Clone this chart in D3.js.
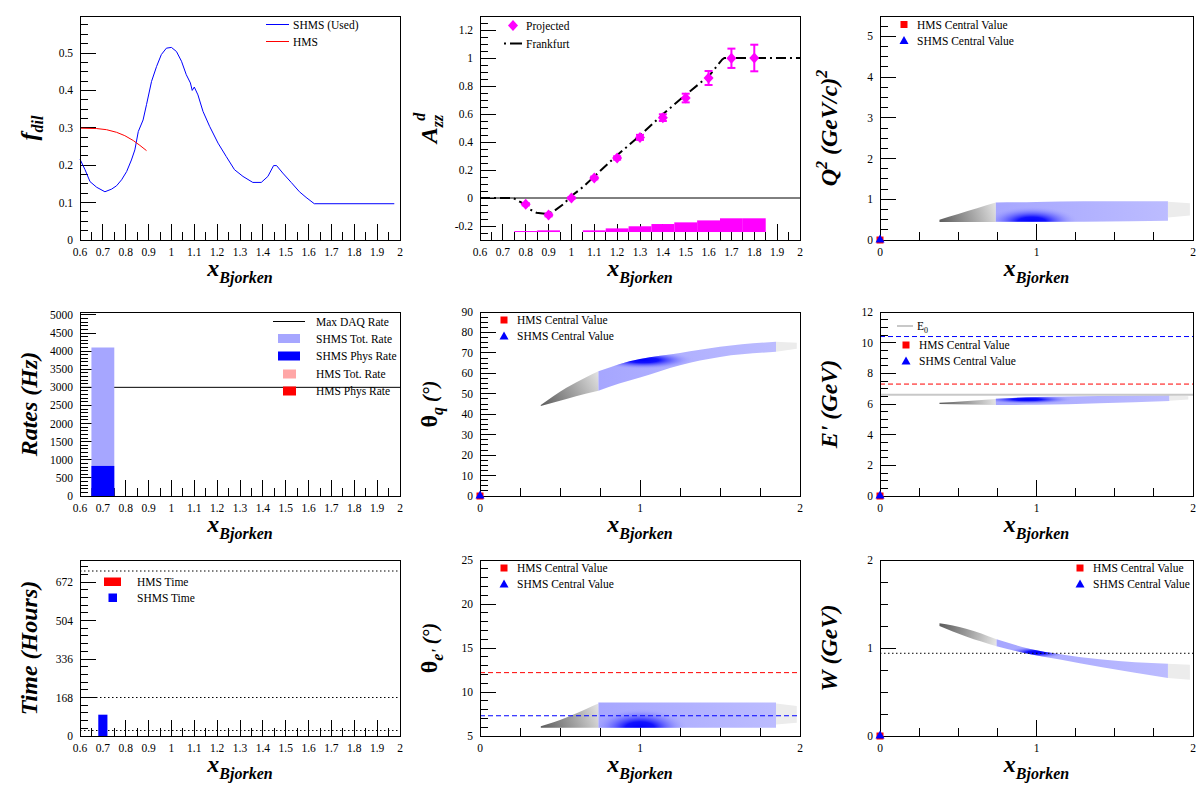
<!DOCTYPE html>
<html>
<head>
<meta charset="utf-8">
<script src="https://d3js.org/d3.v7.min.js"></script>
<style>
  body { margin: 0; background: #fff; }
  svg text { font-family: "Liberation Serif", "Times New Roman", serif; }
</style>
</head>
<body>
<div id="container"></div>
<script>
// ---------------- data ----------------
// dilution factor
const fdilShmsX = [0.6,0.622,0.644,0.673,0.709,0.738,0.76,0.782,0.804,0.825,0.84,0.855,0.876,0.891,0.913,0.935,0.956,0.978,1.0,1.022,1.044,1.065,1.083,1.091,1.1,1.116,1.138,1.167,1.204,1.24,1.276,1.313,1.356,1.393,1.422,1.447,1.46,1.487,1.524,1.56,1.589,1.625,1.975]
const fdilShmsY = [0.216,0.188,0.156,0.141,0.129,0.136,0.145,0.161,0.183,0.214,0.241,0.29,0.321,0.362,0.424,0.464,0.496,0.513,0.515,0.504,0.478,0.442,0.42,0.4,0.409,0.388,0.344,0.304,0.259,0.223,0.188,0.17,0.154,0.154,0.17,0.199,0.199,0.179,0.154,0.129,0.114,0.097,0.097]
const fdilHmsX = [0.6,0.673,0.716,0.76,0.796,0.833,0.862,0.891]
const fdilHmsY = [0.299,0.298,0.295,0.288,0.279,0.266,0.253,0.239]

// A_zz projection
const azzX = [0.8,0.9,1.0,1.1,1.2,1.3,1.4,1.5,1.6,1.7,1.8]
const azzY = [-0.045,-0.121,0.0,0.143,0.286,0.433,0.574,0.714,0.857,0.998,1.0]
const azzErr = [0.008,0.01,0.006,0.01,0.012,0.018,0.024,0.031,0.05,0.069,0.095]
const azzSys = [0.007,0.012,0,0.012,0.026,0.041,0.057,0.069,0.083,0.098,0.098]
const azzSysBase = -0.243
const frankX = [0.6,0.745,0.782,0.818,0.847,0.884,0.92,0.964,1.0,1.051,1.102,1.196,1.298,1.4,1.502,1.604,1.66,1.669,2.0]
const frankY = [0,0,-0.033,-0.081,-0.105,-0.112,-0.098,-0.045,0.014,0.079,0.157,0.3,0.443,0.598,0.74,0.876,0.99,1.0,1.0]

// rates
const rateBinLo = [0.65]
const rateBinHi = [0.75]
const rateShmsTot = [4100]
const rateShmsPhys = [830]
const maxDaqRate = 3000

// beam time
const timeBinLo = [0.68]
const timeBinHi = [0.72]
const timeShms = [93]
const timeRefLines = [24, 168, 720]

// kinematic coverage bands: [x, low edge, high edge]
const q2Hms = [[0.38,0.44,0.50],[0.50,0.44,0.64],[0.62,0.44,0.78],[0.74,0.44,0.92]]
const q2Shms = [[0.74,0.45,0.92],[1.0,0.45,0.93],[1.3,0.45,0.95],[1.6,0.46,0.95],[1.84,0.47,0.95]]
const q2Tail = [[1.84,0.55,0.94],[1.98,0.60,0.90]]
const q2Core = [0.97, 0.45, 0.3, 0.38]

const thqHms = [[0.38,44,44.5],[0.54,47.5,53],[0.66,50,58],[0.74,51.5,61]]
const thqShms = [[0.74,51.5,61],[0.87,55,64.5],[1.0,58,67],[1.25,64,70],[1.5,68,73],[1.85,70.5,75.5]]
const thqTail = [[1.85,70.5,75.5],[1.98,72,75]]
const thqCore = [1.02, 66.5, 0.32, 4.5]

const epHms = [[0.38,6.0,6.08],[0.56,5.96,6.2],[0.74,5.93,6.33]]
const epShms = [[0.74,5.93,6.35],[1.0,5.95,6.45],[1.4,6.05,6.52],[1.85,6.2,6.58]]
const epTail = [[1.85,6.22,6.57],[1.97,6.3,6.5]]
const epCore = [0.94, 6.3, 0.3, 0.3]
const epBeam = 6.6
const epHmsCentral = 7.3
const epShmsCentral = 10.4

const theHms = [[0.38,5.95,6.1],[0.54,5.95,7.1],[0.66,5.95,8.05],[0.74,5.95,8.7]]
const theShms = [[0.74,5.95,8.8],[1.3,5.95,8.8],[1.85,5.95,8.8]]
const theTail = [[1.85,6.3,8.7],[1.98,6.5,8.4]]
const theCore = [1.0, 5.95, 0.3, 2.2]
const theHmsCentral = 12.2
const theShmsCentral = 7.3

const wHms = [[0.38,1.25,1.28],[0.55,1.13,1.22],[0.745,1.02,1.10]]
const wShms = [[0.745,1.02,1.10],[0.96,0.93,0.99],[1.15,0.87,0.93],[1.42,0.78,0.87],[1.84,0.66,0.82]]
const wTail = [[1.84,0.66,0.82],[1.98,0.64,0.81]]
const wCore = [1.0, 0.95, 0.2, 0.07]
const protonMass = 0.94

const centralX = 0, centralY = 0

// ---------------- layout ----------------
const svg = d3.select('#container').append('svg').attr('width', 1200).attr('height', 800)
    .attr('font-family', '"Liberation Serif", "Times New Roman", serif')
const defs = svg.append('defs')
const cols = [{l: 80, r: 400}, {l: 480, r: 800}, {l: 880, r: 1193}]
const rows = [{t: 16, b: 240}, {t: 312, b: 496}, {t: 560, b: 736}]

const multiples = (d0, d1, step) => {
    const a = Math.ceil(d0 / step - 1e-6), b = Math.floor(d1 / step + 1e-6)
    return d3.range(a, b + 1).map(i => +(i * step).toFixed(6))
}
const fmt = v => String(+v.toFixed(3))

function makePanel(ci, ri, xd, yd, xStep, xSub, yStep, ySub) {
    const c = cols[ci], r = rows[ri]
    const x = d3.scaleLinear().domain(xd).range([c.l, c.r])
    const y = d3.scaleLinear().domain(yd).range([r.b, r.t])
    const g = svg.append('g')
    const ax = g.append('g').attr('stroke', '#000').attr('shape-rendering', 'crispEdges')
    const marks = g.append('g')
    const top = g.append('g')

    const xMaj = multiples(xd[0], xd[1], xStep)
    const xMin = multiples(xd[0], xd[1], xStep / xSub).filter(v => !xMaj.some(m => Math.abs(m - v) < 1e-6))
    const yMaj = multiples(yd[0], yd[1], yStep)
    const yMin = multiples(yd[0], yd[1], yStep / ySub).filter(v => !yMaj.some(m => Math.abs(m - v) < 1e-6))

    ax.selectAll(null).data(xMaj).join('line')
        .attr('x1', d => x(d)).attr('x2', d => x(d)).attr('y1', r.b).attr('y2', r.b - 16)
    ax.selectAll(null).data(xMin).join('line')
        .attr('x1', d => x(d)).attr('x2', d => x(d)).attr('y1', r.b).attr('y2', r.b - 8)
    ax.selectAll(null).data(yMaj).join('line')
        .attr('x1', c.l).attr('x2', c.l + 16).attr('y1', d => y(d)).attr('y2', d => y(d))
    ax.selectAll(null).data(yMin).join('line')
        .attr('x1', c.l).attr('x2', c.l + 8).attr('y1', d => y(d)).attr('y2', d => y(d))

    top.selectAll(null).data(xMaj).join('text')
        .attr('x', d => x(d)).attr('y', r.b + 12)
        .attr('text-anchor', 'middle').attr('dominant-baseline', 'central')
        .attr('font-size', 11.5).text(fmt)
    top.selectAll(null).data(yMaj).join('text')
        .attr('x', c.l - 7).attr('y', d => y(d))
        .attr('text-anchor', 'end').attr('dominant-baseline', 'central')
        .attr('font-size', 11.5).text(fmt)

    top.append('rect').attr('x', c.l).attr('y', r.t)
        .attr('width', c.r - c.l).attr('height', r.b - r.t)
        .attr('fill', 'none').attr('stroke', '#000').attr('shape-rendering', 'crispEdges')

    // x title
    const xt = top.append('text').attr('x', (c.l + c.r) / 2).attr('y', r.b + 36)
        .attr('text-anchor', 'middle').attr('font-weight', 'bold').attr('font-style', 'italic')
    xt.append('tspan').attr('font-size', 24).text('x')
    xt.append('tspan').attr('font-size', 16).attr('dy', 7).text('Bjorken')

    return {g, x, y, c, r, marks, top}
}

function yTitle(p, parts) {
    const t = p.top.append('text')
        .attr('transform', `translate(${p.c.l - 43},${(p.r.t + p.r.b) / 2}) rotate(-90)`)
        .attr('text-anchor', 'middle').attr('font-weight', 'bold')
    parts.forEach(d => {
        const s = t.append('tspan').attr('font-size', d.s).text(d.t)
            .attr('font-style', d.up ? 'normal' : 'italic')
        if (d.dy) s.attr('dy', d.dy)
        if (d.dx) s.attr('dx', d.dx)
    })
}

const legendText = (p, x, y, str) => p.top.append('text').attr('x', x).attr('y', y)
    .attr('dominant-baseline', 'central').attr('font-size', 11.5).text(str)
const square = (sel, cx, cy, color) => sel.append('rect')
    .attr('x', cx - 3.5).attr('y', cy - 3.5).attr('width', 7).attr('height', 7).attr('fill', color)
const triangle = (sel, cx, cy, color) => sel.append('path')
    .attr('d', `M${cx},${cy - 4.5}L${cx + 4.5},${cy + 3.5}L${cx - 4.5},${cy + 3.5}Z`).attr('fill', color)
const diamond = (sel, cx, cy, color) => sel.append('path')
    .attr('d', `M${cx},${cy - 5.5}L${cx + 5},${cy}L${cx},${cy + 5.5}L${cx - 5},${cy}Z`).attr('fill', color)

function centralLegend(p, mx, y1, y2) {
    square(p.top, mx, y1, '#ff0000')
    legendText(p, mx + 13, y1, 'HMS Central Value')
    triangle(p.top, mx, y2, '#0000ff')
    legendText(p, mx + 13, y2, 'SHMS Central Value')
}
function centralMarkers(p) {
    square(p.top, p.x(centralX), p.y(centralY), '#ff0000')
    triangle(p.top, p.x(centralX), p.y(centralY) - 1, '#0000ff')
}

function density(p, hms, shms, tail, core, id) {
    const area = d3.area().x(d => p.x(d[0])).y0(d => p.y(d[1])).y1(d => p.y(d[2])).curve(d3.curveMonotoneX)
    const last = hms[hms.length - 1]
    const lg = defs.append('linearGradient').attr('id', id + 'g').attr('gradientUnits', 'userSpaceOnUse')
        .attr('x1', p.x(hms[0][0])).attr('y1', p.y(hms[0][1]))
        .attr('x2', p.x(last[0])).attr('y2', p.y(last[2]))
    lg.append('stop').attr('offset', 0).attr('stop-color', '#5c5c5c')
    lg.append('stop').attr('offset', 0.55).attr('stop-color', '#a4a4a4')
    lg.append('stop').attr('offset', 1).attr('stop-color', '#e4e4e4')
    p.marks.append('path').datum(hms).attr('d', area).attr('fill', `url(#${id}g)`)

    const bg = defs.append('linearGradient').attr('id', id + 'b').attr('gradientUnits', 'userSpaceOnUse')
        .attr('x1', p.x(shms[0][0])).attr('x2', p.x(shms[shms.length - 1][0])).attr('y1', 0).attr('y2', 0)
    bg.append('stop').attr('offset', 0).attr('stop-color', '#a6a6ff')
    bg.append('stop').attr('offset', 1).attr('stop-color', '#bcbcff')
    p.marks.append('path').datum(shms).attr('d', area).attr('fill', `url(#${id}b)`)

    defs.append('clipPath').attr('id', id + 'c').append('path').datum(shms).attr('d', area)
    const rg = defs.append('radialGradient').attr('id', id + 'r')
    rg.append('stop').attr('offset', 0).attr('stop-color', '#0000ff').attr('stop-opacity', 1)
    rg.append('stop').attr('offset', 0.3).attr('stop-color', '#0a0aff').attr('stop-opacity', 0.95)
    rg.append('stop').attr('offset', 0.65).attr('stop-color', '#6464ff').attr('stop-opacity', 0.55)
    rg.append('stop').attr('offset', 1).attr('stop-color', '#b0b0ff').attr('stop-opacity', 0)
    p.marks.append('ellipse')
        .attr('cx', p.x(core[0])).attr('cy', p.y(core[1]))
        .attr('rx', p.x(core[0] + core[2]) - p.x(core[0]))
        .attr('ry', p.y(core[1]) - p.y(core[1] + core[3]))
        .attr('fill', `url(#${id}r)`).attr('clip-path', `url(#${id}c)`)

    p.marks.append('path').datum(tail).attr('d', area).attr('fill', '#ececec')
}

function hline(p, v, color, dash, width) {
    p.marks.append('line').attr('x1', p.c.l).attr('x2', p.c.r).attr('y1', p.y(v)).attr('y2', p.y(v))
        .attr('stroke', color).attr('stroke-width', width || 1)
        .attr('stroke-dasharray', dash || null)
}

// ---------------- panel 1: f_dil ----------------
const p1 = makePanel(0, 0, [0.6, 2], [0, 0.599], 0.1, 2, 0.1, 4)
const line1 = d3.line().x(d => p1.x(d[0])).y(d => p1.y(d[1]))
p1.marks.append('path').datum(d3.zip(fdilShmsX, fdilShmsY)).attr('d', line1)
    .attr('fill', 'none').attr('stroke', '#0000ff')
p1.marks.append('path').datum(d3.zip(fdilHmsX, fdilHmsY)).attr('d', line1)
    .attr('fill', 'none').attr('stroke', '#ff0000')
p1.top.append('line').attr('x1', 266).attr('x2', 289).attr('y1', 24.5).attr('y2', 24.5).attr('stroke', '#0000ff')
legendText(p1, 293, 24.5, 'SHMS (Used)')
p1.top.append('line').attr('x1', 266).attr('x2', 289).attr('y1', 41.5).attr('y2', 41.5).attr('stroke', '#ff0000')
legendText(p1, 293, 41.5, 'HMS')
yTitle(p1, [{t: 'f', s: 24}, {t: 'dil', s: 16, dy: 6}])

// ---------------- panel 2: A_zz ----------------
const p2 = makePanel(1, 0, [0.6, 2], [-0.3, 1.3], 0.1, 2, 0.2, 4)
hline(p2, 0, '#000')
p2.marks.selectAll(null).data(azzX.map((x, i) => [x, azzSys[i]]).filter(d => d[1] > 0)).join('rect')
    .attr('x', d => p2.x(d[0] - 0.05)).attr('width', d => p2.x(d[0] + 0.05) - p2.x(d[0] - 0.05))
    .attr('y', d => p2.y(azzSysBase + d[1])).attr('height', d => p2.y(azzSysBase) - p2.y(azzSysBase + d[1]))
    .attr('fill', '#ff00ff')
p2.marks.append('path').datum(d3.zip(frankX, frankY))
    .attr('d', d3.line().x(d => p2.x(d[0])).y(d => p2.y(d[1])))
    .attr('fill', 'none').attr('stroke', '#000').attr('stroke-width', 2).attr('stroke-dasharray', '10 4 2 4')
const errG = p2.marks.append('g').attr('stroke', '#ff00ff').attr('stroke-width', 2)
azzX.forEach((x, i) => {
    const cx = p2.x(x), lo = p2.y(azzY[i] - azzErr[i]), hi = p2.y(azzY[i] + azzErr[i])
    errG.append('line').attr('x1', cx).attr('x2', cx).attr('y1', lo).attr('y2', hi)
    errG.append('line').attr('x1', cx - 4).attr('x2', cx + 4).attr('y1', lo).attr('y2', lo)
    errG.append('line').attr('x1', cx - 4).attr('x2', cx + 4).attr('y1', hi).attr('y2', hi)
    diamond(p2.marks, cx, p2.y(azzY[i]), '#ff00ff')
})
diamond(p2.top, 513, 25.5, '#ff00ff')
legendText(p2, 526, 25.5, 'Projected')
p2.top.append('line').attr('x1', 504).attr('x2', 522).attr('y1', 43.5).attr('y2', 43.5)
    .attr('stroke', '#000').attr('stroke-width', 2).attr('stroke-dasharray', '2 4 12 4')
legendText(p2, 526, 43.5, 'Frankfurt')
yTitle(p2, [{t: 'A', s: 24}, {t: 'zz', s: 16, dy: 6}, {t: 'd', s: 16, dx: -6, dy: -18}])

// ---------------- panel 3: Q2 ----------------
const p3 = makePanel(2, 0, [0, 2], [0, 5.5], 1, 4, 1, 4)
density(p3, q2Hms, q2Shms, q2Tail, q2Core, 'q2')
centralMarkers(p3)
centralLegend(p3, 904, 24.5, 40.5)
yTitle(p3, [{t: 'Q', s: 24}, {t: '2', s: 16, dy: -10}, {t: ' (GeV/c)', s: 24, dy: 10}, {t: '2', s: 16, dy: -10}])

// ---------------- panel 4: rates ----------------
const p4 = makePanel(0, 1, [0.6, 2], [0, 5080], 0.1, 2, 500, 5)
p4.marks.append('line').attr('x1', p4.x(0.6)).attr('x2', p4.x(2)).attr('y1', p4.y(maxDaqRate)).attr('y2', p4.y(maxDaqRate))
    .attr('stroke', '#000')
p4.marks.selectAll(null).data(rateBinLo.map((x, i) => [x, rateBinHi[i], rateShmsTot[i]])).join('rect')
    .attr('x', d => p4.x(d[0])).attr('width', d => p4.x(d[1]) - p4.x(d[0]))
    .attr('y', d => p4.y(d[2])).attr('height', d => p4.y(0) - p4.y(d[2])).attr('fill', '#a6a6ff')
p4.marks.selectAll(null).data(rateBinLo.map((x, i) => [x, rateBinHi[i], rateShmsPhys[i]])).join('rect')
    .attr('x', d => p4.x(d[0])).attr('width', d => p4.x(d[1]) - p4.x(d[0]))
    .attr('y', d => p4.y(d[2])).attr('height', d => p4.y(0) - p4.y(d[2])).attr('fill', '#0000ff')
p4.top.append('line').attr('x1', 273).attr('x2', 305).attr('y1', 321.5).attr('y2', 321.5).attr('stroke', '#000')
legendText(p4, 316, 321.5, 'Max DAQ Rate')
p4.top.append('rect').attr('x', 278).attr('y', 334).attr('width', 22).attr('height', 9).attr('fill', '#a6a6ff')
legendText(p4, 316, 339, 'SHMS Tot. Rate')
p4.top.append('rect').attr('x', 278).attr('y', 351.5).attr('width', 22).attr('height', 9).attr('fill', '#0000ff')
legendText(p4, 316, 356, 'SHMS Phys Rate')
p4.top.append('rect').attr('x', 283).attr('y', 369.5).attr('width', 13).attr('height', 9).attr('fill', '#ffa6a6')
legendText(p4, 316, 374, 'HMS Tot. Rate')
p4.top.append('rect').attr('x', 283).attr('y', 386.5).attr('width', 13).attr('height', 9).attr('fill', '#ff0000')
legendText(p4, 316, 391, 'HMS Phys Rate')
yTitle(p4, [{t: 'Rates (Hz)', s: 24}])

// ---------------- panel 5: theta_q ----------------
const p5 = makePanel(1, 1, [0, 2], [0, 90], 1, 4, 10, 4)
density(p5, thqHms, thqShms, thqTail, thqCore, 'thq')
centralMarkers(p5)
centralLegend(p5, 504, 320, 336)
yTitle(p5, [{t: 'θ', s: 24, up: true}, {t: 'q', s: 16, dy: 6}, {t: ' (°)', s: 20, dy: -6}])

// ---------------- panel 6: E' ----------------
const p6 = makePanel(2, 1, [0, 2], [0, 12], 1, 4, 2, 4)
density(p6, epHms, epShms, epTail, epCore, 'ep')
hline(p6, epBeam, '#c8c8c8', null, 2)
hline(p6, epHmsCentral, '#ff0000', '5 3')
hline(p6, epShmsCentral, '#0000ff', '5 3')
centralMarkers(p6)
p6.top.append('line').attr('x1', 897).attr('x2', 913).attr('y1', 326).attr('y2', 326).attr('stroke', '#c8c8c8').attr('stroke-width', 2)
const e0 = p6.top.append('text').attr('x', 917).attr('y', 326).attr('dominant-baseline', 'central').attr('font-size', 11.5)
e0.append('tspan').text('E')
e0.append('tspan').attr('font-size', 8).attr('dy', 4).text('0')
centralLegend(p6, 906, 345, 361)
yTitle(p6, [{t: "E' (GeV)", s: 24}])

// ---------------- panel 7: time ----------------
const p7 = makePanel(0, 2, [0.6, 2], [0, 768], 0.1, 2, 168, 5)
timeRefLines.forEach(v => hline(p7, v, '#000', '1.5 2.5'))
p7.marks.selectAll(null).data(timeBinLo.map((x, i) => [x, timeBinHi[i], timeShms[i]])).join('rect')
    .attr('x', d => p7.x(d[0])).attr('width', d => p7.x(d[1]) - p7.x(d[0]))
    .attr('y', d => p7.y(d[2])).attr('height', d => p7.y(0) - p7.y(d[2])).attr('fill', '#0000ff')
p7.top.append('rect').attr('x', 104).attr('y', 577.5).attr('width', 17).attr('height', 8.5).attr('fill', '#ff0000')
legendText(p7, 137, 582, 'HMS Time')
p7.top.append('rect').attr('x', 108.5).attr('y', 593.5).attr('width', 8.5).attr('height', 8.5).attr('fill', '#0000ff')
legendText(p7, 137, 598, 'SHMS Time')
yTitle(p7, [{t: 'Time (Hours)', s: 24}])

// ---------------- panel 8: theta_e' ----------------
const p8 = makePanel(1, 2, [0, 2], [5, 25], 1, 4, 5, 5)
density(p8, theHms, theShms, theTail, theCore, 'the')
hline(p8, theHmsCentral, '#ff0000', '5 3')
hline(p8, theShmsCentral, '#0000ff', '5 3')
centralLegend(p8, 504, 568, 584)
yTitle(p8, [{t: 'θ', s: 24, up: true}, {t: "e'", s: 16, dy: 6}, {t: ' (°)', s: 20, dy: -6}])

// ---------------- panel 9: W ----------------
const p9 = makePanel(2, 2, [0, 2], [0, 2], 1, 4, 1, 4)
density(p9, wHms, wShms, wTail, wCore, 'w')
hline(p9, protonMass, '#000', '1.5 2.5')
centralMarkers(p9)
centralLegend(p9, 1080, 568, 584)
yTitle(p9, [{t: 'W (GeV)', s: 24}])
</script>
</body>
</html>
